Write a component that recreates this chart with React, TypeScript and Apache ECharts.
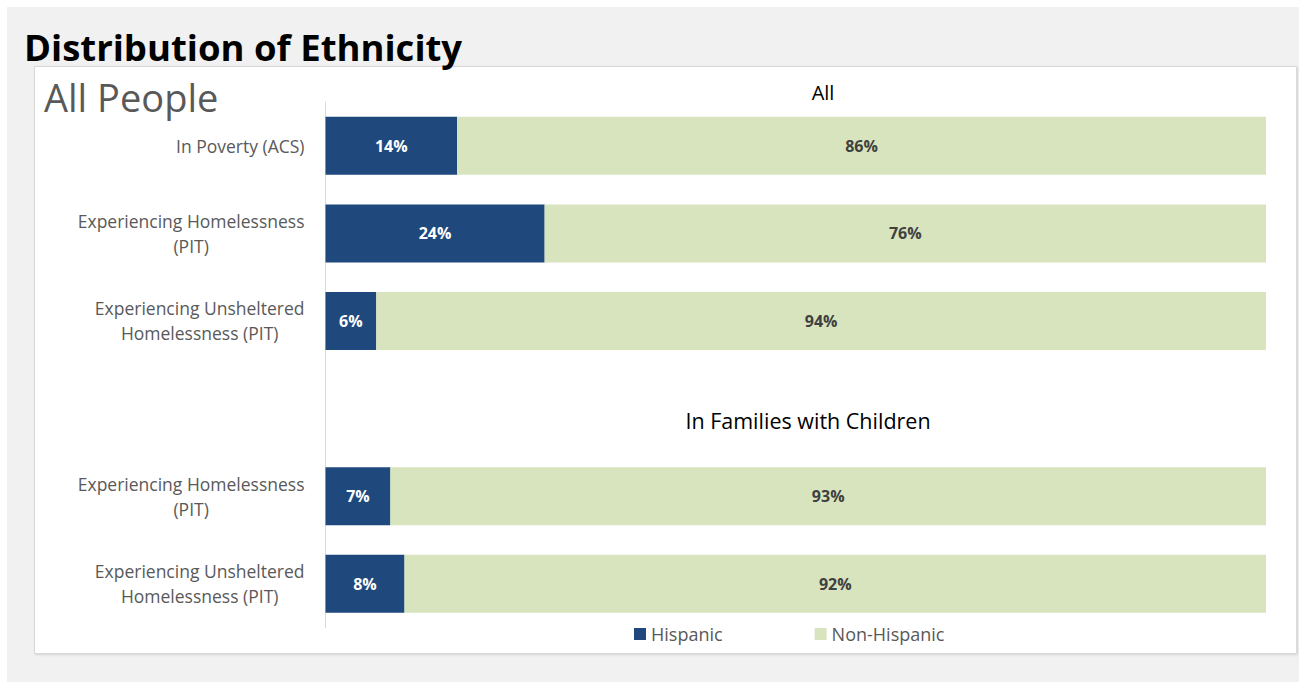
import React, { useEffect, useRef } from "react";
import * as echarts from "echarts";

const categoryKeys = ["poverty", "homeless", "unsheltered", "gap", "famHomeless", "famUnsheltered"];
const categoryLabels = [
  "In Poverty (ACS)",
  "Experiencing Homelessness\n(PIT)",
  "Experiencing Unsheltered\nHomelessness (PIT)",
  "",
  "Experiencing Homelessness\n(PIT)",
  "Experiencing Unsheltered\nHomelessness (PIT)",
];
const hispanic = [14, 23.3, 5.4, null, 6.9, 8.4];
const nonHispanic = [86, 76.7, 94.6, null, 93.1, 91.6];
const hispanicLabels = ["14%", "24%", "6%", "", "7%", "8%"];
const nonHispanicLabels = ["86%", "76%", "94%", "", "93%", "92%"];
const seriesNames = ["Hispanic", "Non-Hispanic"];

const FONT = "Open Sans";

export default function App() {
  const ref = useRef<HTMLDivElement>(null);
  useEffect(() => {
    if (!ref.current) return;
    const chart = echarts.init(ref.current, undefined, { renderer: "svg" });
    chart.setOption({
      animation: false,
      backgroundColor: "#ffffff",
      textStyle: { fontFamily: FONT },
      graphic: [
        { type: "rect", z: -20, silent: true, shape: { x: 7, y: 7, width: 1292, height: 675 }, style: { fill: "#f1f1f1" } },
        {
          type: "rect", z: -19, silent: true,
          shape: { x: 34.5, y: 66.5, width: 1262, height: 587 },
          style: { fill: "#ffffff", stroke: "#d9d9d9", lineWidth: 1, shadowBlur: 2, shadowColor: "rgba(0,0,0,0.12)", shadowOffsetX: 1, shadowOffsetY: 1 },
        },
        {
          type: "text", z: 50, x: 24, y: 47,
          style: { text: "Distribution of Ethnicity", fontFamily: FONT, fontWeight: "bold", fontSize: 36.5, fill: "#000000", verticalAlign: "middle", align: "left" },
        },
        {
          type: "text", z: 50, x: 44, y: 97,
          style: { text: "All People", fontFamily: FONT, fontSize: 38, fill: "#595959", verticalAlign: "middle", align: "left" },
        },
        {
          type: "text", z: 50, x: 823, y: 92,
          style: { text: "All", fontFamily: FONT, fontSize: 20, fill: "#000000", verticalAlign: "middle", align: "center" },
        },
        {
          type: "text", z: 50, x: 808, y: 420,
          style: { text: "In Families with Children", fontFamily: FONT, fontSize: 21.5, fill: "#000000", verticalAlign: "middle", align: "center" },
        },
      ],
      legend: {
        data: seriesNames,
        left: 629,
        top: 620,
        itemWidth: 12,
        itemHeight: 12,
        itemGap: 92,
        icon: "rect",
        textStyle: { fontFamily: FONT, fontSize: 18, color: "#595959" },
      },
      grid: { left: 325.5, right: 33, top: 102, bottom: 54.5, containLabel: false },
      xAxis: { type: "value", min: 0, max: 100, show: false },
      yAxis: {
        type: "category",
        inverse: true,
        data: categoryKeys,
        axisLine: { show: true, lineStyle: { color: "#d9d9d9", width: 1 } },
        axisTick: { show: false },
        splitLine: { show: false },
        axisLabel: {
          margin: 21,
          align: "right",
          formatter: (_v: string, i: number) =>
            categoryLabels[i] ? categoryLabels[i].split("\n").map((l) => `{c|${l}}`).join("\n") : "",
          rich: { c: { align: "center", fontFamily: FONT, fontSize: 17.5, lineHeight: 25, color: "#595959" } },
        },
      },
      series: [
        {
          name: seriesNames[0], type: "bar", stack: "total", barWidth: 58,
          data: hispanic,
          itemStyle: { color: "#1f497d" },
          label: { show: true, position: "inside", formatter: (p: any) => hispanicLabels[p.dataIndex], color: "#ffffff", fontWeight: "bold", fontSize: 16, fontFamily: FONT },
        },
        {
          name: seriesNames[1], type: "bar", stack: "total", barWidth: 58,
          data: nonHispanic,
          itemStyle: { color: "#d7e4bd" },
          label: { show: true, position: "inside", formatter: (p: any) => nonHispanicLabels[p.dataIndex], color: "#404040", fontWeight: "bold", fontSize: 16, fontFamily: FONT },
        },
      ],
    });
    return () => chart.dispose();
  }, []);
  return <div ref={ref} style={{ position: "fixed", left: 0, top: 0, width: 1299, height: 682 }} />;
}
